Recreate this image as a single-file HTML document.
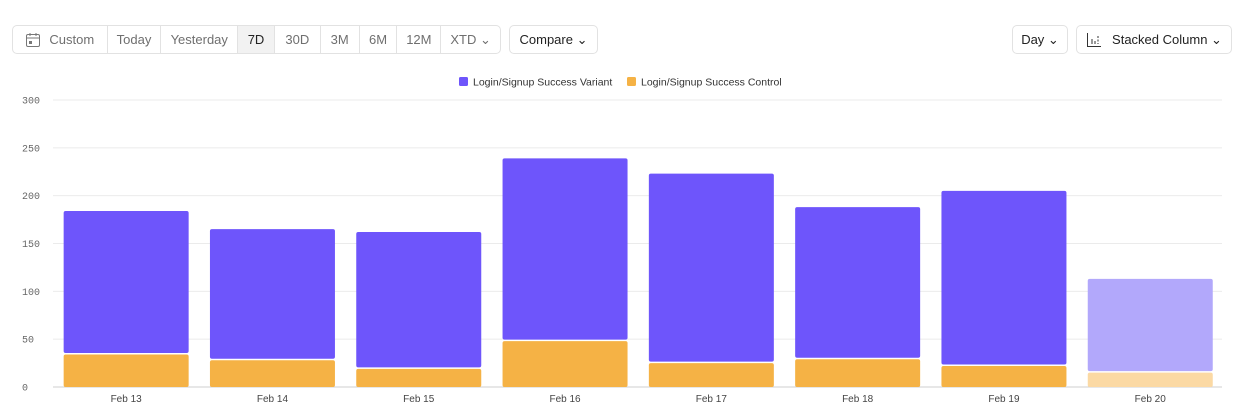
<!DOCTYPE html>
<html><head><meta charset="utf-8"><style>
body{margin:0;width:1251px;height:414px;background:#fff;font-family:"Liberation Sans",sans-serif;position:relative;overflow:hidden}
.seg{position:absolute;top:25px;height:29px;border:1px solid #e2e2e2;border-radius:5px;box-sizing:border-box;display:flex;overflow:hidden}
.seg div{height:100%;display:flex;align-items:center;justify-content:center;font-size:13px;color:#6f6f6f;border-right:1px solid #e2e2e2;box-sizing:border-box}
.seg div:last-child{border-right:none}
.btn{position:absolute;top:25px;height:29px;border:1px solid #e2e2e2;border-radius:5px;box-sizing:border-box;display:flex;align-items:center;justify-content:center;font-size:13px;color:#222}
</style></head><body>
<div class="seg" style="left:12px;width:489px">
<div style="width:95px;gap:8px"><svg width="16" height="16" viewBox="0 0 16 16"><rect x="1.5" y="2.5" width="13" height="12" rx="1.5" fill="none" stroke="#777"/><line x1="1.5" y1="6" x2="14.5" y2="6" stroke="#777"/><line x1="5" y1="1" x2="5" y2="4" stroke="#777"/><line x1="11" y1="1" x2="11" y2="4" stroke="#777"/><rect x="4" y="9" width="3" height="3" fill="#777"/></svg>Custom</div>
<div style="width:54px">Today</div>
<div style="width:77px">Yesterday</div>
<div style="width:37px;background:#f2f2f2;color:#222">7D</div>
<div style="width:46px">30D</div>
<div style="width:39px">3M</div>
<div style="width:38px">6M</div>
<div style="width:44px">12M</div>
<div style="width:59px">XTD ⌄</div>
</div>
<div class="btn" style="left:509px;width:89px">Compare ⌄</div>
<div class="btn" style="left:1012px;width:56px">Day ⌄</div>
<div class="btn" style="left:1076px;width:156px;gap:10px"><svg width="16" height="16" viewBox="0 0 16 16"><path d="M1.5 1v13.5H15" fill="none" stroke="#333"/><line x1="6" y1="7" x2="6" y2="12" stroke="#333"/><line x1="9" y1="9" x2="9" y2="12" stroke="#333"/><line x1="12" y1="4" x2="12" y2="12" stroke="#333" stroke-dasharray="2 1.5"/></svg>Stacked Column ⌄</div>
<svg id="chart" width="1251" height="414" style="position:absolute;left:0;top:0"></svg>
<script>
const categories=["Feb 13","Feb 14","Feb 15","Feb 16","Feb 17","Feb 18","Feb 19","Feb 20"];
const variantTotals=[184,165,162,239,223,188,205,113];
const controlValues=[34,28,19,48,25,29,22,15];
const yTicks=[0,50,100,150,200,250,300];
const NS="http://www.w3.org/2000/svg",svg=document.getElementById('chart');
const y=v=>387-v*287/300, x0=53, step=146.3, bw=125;
const xc=i=>x0+step*i+step/2;
function el(t,a){const e=document.createElementNS(NS,t);for(const k in a)e.setAttribute(k,a[k]);svg.appendChild(e);return e;}
yTicks.forEach(t=>{
 const l=el('line',{x1:53,x2:1222,y1:y(t),y2:y(t),stroke:t===0?'#cfcfcf':'#ebebeb'});
 
 
 const tx=el('text',{x:22,y:y(t)+3.5,'font-size':10,fill:'#666','font-family':'Liberation Mono, monospace'});tx.textContent=t;
 
 
});
categories.forEach((c,i)=>{
 const last=i===categories.length-1;
 const left=xc(i)-bw/2, total=variantTotals[i]+0, ctrl=controlValues[i];
 const v=el('rect',{x:left,y:y(total),width:bw,height:y(ctrl)-y(total)-1.5,rx:2,fill:last?'#b2a8fb':'#6e55fb'});
 
 
 const k=el('rect',{x:left,y:y(ctrl),width:bw,height:y(0)-y(ctrl),rx:2,fill:last?'#fbd9a4':'#f5b245'});
 
 
 const t=el('text',{x:xc(i),y:402,'font-size':10,fill:'#444','text-anchor':'middle'});t.textContent=c;
 
 
});
[["Login/Signup Success Variant","#6e55fb",459],["Login/Signup Success Control","#f5b245",627]].forEach(([n,c,lx])=>{
 const g=el('rect',{x:lx,y:77,width:9,height:9,rx:1.5,fill:c});
 
 
 const t=el('text',{x:lx+14,y:85.5,'font-size':10.5,fill:'#333'});t.textContent=n;
 
 
});
</script>
</body></html>
